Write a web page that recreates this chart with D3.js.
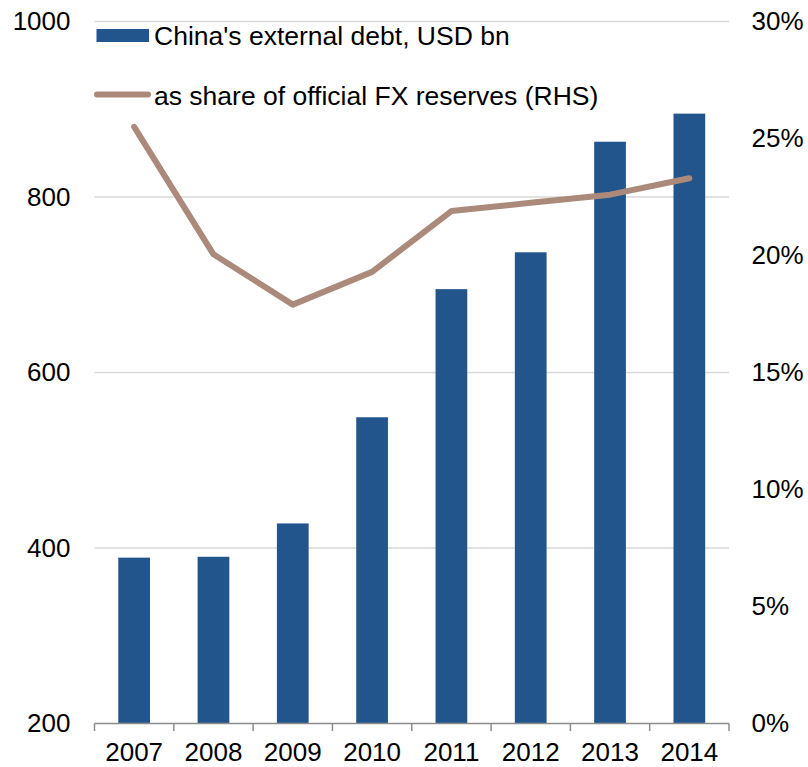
<!DOCTYPE html>
<html>
<head>
<meta charset="utf-8">
<script src="https://cdn.jsdelivr.net/npm/d3@7/dist/d3.min.js"></script>
<style>
  html, body { margin: 0; padding: 0; background: #fff; }
  svg { display: block; font-family: "Liberation Sans", Arial, sans-serif; }
</style>
</head>
<body>
<svg id="chart" width="808" height="767"></svg>
<script>
// Chart data
const years = ["2007", "2008", "2009", "2010", "2011", "2012", "2013", "2014"];
const externalDebt = [389, 390, 428, 549, 695, 737, 863, 895];          // USD bn
const shareOfReserves = [25.5, 20.05, 17.9, 19.3, 21.9, 22.25, 22.6, 23.3]; // % of FX reserves
const leftTicks = [200, 400, 600, 800, 1000];
const rightTicks = [0, 5, 10, 15, 20, 25, 30];
const seriesNames = ["China's external debt, USD bn", "as share of official FX reserves (RHS)"];

const svg = d3.select("#chart");
const plot = { left: 94.5, right: 729, top: 21.5, bottom: 723.5 };
const fontSize = 26;
const legendFontSize = 26.5;

const x = d3.scaleBand().domain(years).range([plot.left, plot.right]).paddingInner(0.6).paddingOuter(0.3);
const xStep = d3.scaleBand().domain(years).range([plot.left, plot.right]);
const yL = d3.scaleLinear().domain([200, 1000]).range([plot.bottom, plot.top]);
const yR = d3.scaleLinear().domain([0, 30]).range([plot.bottom, plot.top]);

// Horizontal gridlines
svg.append("g")
  .selectAll("line")
  .data(leftTicks.filter(d => d > 200))
  .join("line")
  .attr("x1", plot.left).attr("x2", plot.right)
  .attr("y1", d => yL(d)).attr("y2", d => yL(d))
  .attr("stroke", "#d9d9d9").attr("stroke-width", 1.5);

// Left axis labels
const leftAxis = svg.append("g")
  .attr("transform", `translate(${plot.left},0)`)
  .call(d3.axisLeft(yL).tickValues(leftTicks).tickFormat(d3.format("d")).tickSize(0).tickPadding(24));
leftAxis.select(".domain").remove();
leftAxis.selectAll("text").attr("font-size", fontSize).attr("fill", "#000").attr("font-family", "Liberation Sans, Arial, sans-serif");

// Right axis labels
const rightAxis = svg.append("g")
  .attr("transform", `translate(${plot.right},0)`)
  .call(d3.axisRight(yR).tickValues(rightTicks).tickFormat(d => d + "%").tickSize(0).tickPadding(22.5));
rightAxis.select(".domain").remove();
rightAxis.selectAll("text").attr("font-size", fontSize).attr("fill", "#000").attr("font-family", "Liberation Sans, Arial, sans-serif");

// Bars
svg.append("g")
  .selectAll("rect")
  .data(years.map((y, i) => ({ year: y, value: externalDebt[i] })))
  .join("rect")
  .attr("x", d => x(d.year))
  .attr("width", x.bandwidth())
  .attr("y", d => yL(d.value))
  .attr("height", d => yL(200) - yL(d.value))
  .attr("fill", "#23558d");

// Bottom axis with tick marks between categories
const bottom = svg.append("g").attr("transform", `translate(0,${plot.bottom})`);
bottom.append("line")
  .attr("x1", plot.left).attr("x2", plot.right)
  .attr("stroke", "#8c8c8c").attr("stroke-width", 1.5);
const boundaries = years.map(y => xStep(y)).concat([plot.right]);
bottom.selectAll("line.tick")
  .data(boundaries)
  .join("line")
  .attr("class", "tick")
  .attr("x1", d => d).attr("x2", d => d)
  .attr("y1", 0).attr("y2", 7.5)
  .attr("stroke", "#8c8c8c").attr("stroke-width", 1.5);
bottom.selectAll("text")
  .data(years)
  .join("text")
  .attr("x", d => xStep(d) + xStep.bandwidth() / 2)
  .attr("y", 37.5)
  .attr("text-anchor", "middle")
  .attr("font-size", fontSize)
  .attr("fill", "#000")
  .text(d => d);

// Share line
const line = d3.line()
  .x((d, i) => xStep(years[i]) + xStep.bandwidth() / 2)
  .y(d => yR(d));
svg.append("path")
  .datum(shareOfReserves)
  .attr("d", line)
  .attr("fill", "none")
  .attr("stroke", "#ab8a7b")
  .attr("stroke-width", 6)
  .attr("stroke-linecap", "round")
  .attr("stroke-linejoin", "round");

// Legend
const legend = svg.append("g");
legend.append("rect")
  .attr("x", 96.5).attr("y", 29).attr("width", 52.5).attr("height", 13)
  .attr("fill", "#23558d");
legend.append("text")
  .attr("x", 154).attr("y", 45)
  .attr("font-size", legendFontSize).attr("fill", "#000")
  .text(seriesNames[0]);
legend.append("line")
  .attr("x1", 97).attr("x2", 148).attr("y1", 94.5).attr("y2", 94.5)
  .attr("stroke", "#ab8a7b").attr("stroke-width", 6).attr("stroke-linecap", "round");
legend.append("text")
  .attr("x", 154).attr("y", 105)
  .attr("font-size", legendFontSize).attr("fill", "#000")
  .text(seriesNames[1]);
</script>
</body>
</html>
